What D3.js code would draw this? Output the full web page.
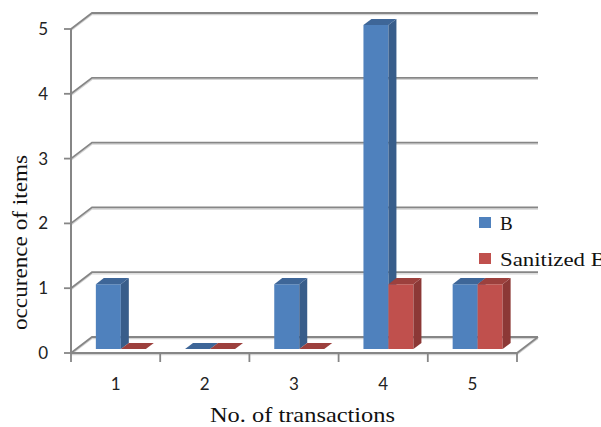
<!DOCTYPE html>
<html><head><meta charset="utf-8">
<script src="https://cdn.jsdelivr.net/npm/d3@7"></script>
<style>body{margin:0;background:#fff;overflow:hidden}svg{display:block}</style>
</head><body>
<script>
const categories = ["1","2","3","4","5"];
const seriesNames = ["B","Sanitized B"];
const valuesB = [1,0,1,5,1];
const valuesSanitized = [0,0,0,1,1];
const yTicks = [0,1,2,3,4,5];
const colors = {
  "B": {front:"#4F81BD", side:"#385D8A", top:"#3E6698"},
  "Sanitized B": {front:"#C0504D", side:"#8C3836", top:"#9C403D"}
};

const W = 601, H = 427;
const svg = d3.select("body").append("svg").attr("width", W).attr("height", H);

const x0 = 71, frontW = 446;
const DX = 21, DY = -16;          // depth offset of the back wall
const yScale = d3.scaleLinear().domain([0,5]).range([353,29]);
const xBand = d3.scaleBand().domain(categories).range([0, frontW]).padding(0);
const xSeries = d3.scaleBand().domain(seriesNames).range([0, xBand.bandwidth()]).paddingInner(0).paddingOuter(0.784);
const d1 = 0.25, d2 = 0.63;        // bar depth range

function P(xp, v, d){ return [x0 + xp + d*DX, yScale(v) + d*DY]; }

const grid = svg.append("g");
function drawLine(pts){
  grid.append("polyline").attr("points", pts.map(p=>[p[0],p[1]+1.6].join(",")).join(" "))
    .attr("fill","none").attr("stroke","#d4d4d4").attr("stroke-width",1.3);
  grid.append("polyline").attr("points", pts.map(p=>p.join(",")).join(" "))
    .attr("fill","none").attr("stroke","#868686").attr("stroke-width",1.8);
}
yTicks.forEach(t => drawLine([[x0, yScale(t)], P(0,t,1), P(frontW,t,1)]));
drawLine([[x0, yScale(0)], [x0+frontW, yScale(0)], P(frontW,0,1)]);
// vertical axis
grid.append("line").attr("x1",x0).attr("x2",x0).attr("y1",yScale(5)).attr("y2",yScale(0)+1)
  .attr("stroke","#868686").attr("stroke-width",2);
yTicks.forEach(t => {
  grid.append("line").attr("x1",x0-7).attr("x2",x0).attr("y1",yScale(t)).attr("y2",yScale(t))
    .attr("stroke","#868686").attr("stroke-width",1.8);
});
// x ticks
d3.range(categories.length+1).forEach(i => {
  const xx = x0 + i*xBand.step();
  grid.append("line").attr("x1",xx).attr("x2",xx).attr("y1",yScale(0)).attr("y2",yScale(0)+9)
    .attr("stroke","#868686").attr("stroke-width",1.8);
});

// bars
const bars = svg.append("g");
const data = [];
categories.forEach((c,i) => {
  data.push({cat:c, s:"B", v:valuesB[i]});
  data.push({cat:c, s:"Sanitized B", v:valuesSanitized[i]});
});
function poly(pts){ return pts.map(p=>p.join(",")).join(" "); }
data.forEach(d => {
  const xl = xBand(d.cat) + xSeries(d.s), xr = xl + xSeries.bandwidth();
  const col = colors[d.s];
  const g = bars.append("g");
  if (d.v > 0) {
    g.append("polygon").attr("points", poly([P(xl,0,d1),P(xr,0,d1),P(xr,d.v,d1),P(xl,d.v,d1)])).attr("fill",col.front);
    g.append("polygon").attr("points", poly([P(xr,0,d1),P(xr,0,d2),P(xr,d.v,d2),P(xr,d.v,d1)])).attr("fill",col.side);
  }
  g.append("polygon").attr("points", poly([P(xl,d.v,d1),P(xr,d.v,d1),P(xr,d.v,d2),P(xl,d.v,d2)])).attr("fill",col.top);
});

// y tick labels
svg.append("g").selectAll("text").data(yTicks).join("text")
  .attr("x", 48).attr("y", d => yScale(d)+6).attr("text-anchor","end")
  .attr("font-family","Lato, 'Liberation Sans', sans-serif").attr("font-size",17).attr("fill","#222")
  .text(d => d);
// x category labels
svg.append("g").selectAll("text").data(categories).join("text")
  .attr("x", d => x0 + xBand(d) + xBand.bandwidth()/2).attr("y", 390).attr("text-anchor","middle")
  .attr("font-family","Lato, 'Liberation Sans', sans-serif").attr("font-size",17).attr("fill","#222")
  .text(d => d);

// axis titles
svg.append("text").attr("x", 210).attr("y", 422)
  .attr("font-family","'Liberation Serif', 'Times New Roman', serif").attr("font-size",22).attr("fill","#111")
  .attr("textLength",185).attr("lengthAdjust","spacingAndGlyphs")
  .text("No. of transactions");
svg.append("text").attr("transform","translate(27,330) rotate(-90)")
  .attr("font-family","'Liberation Serif', 'Times New Roman', serif").attr("font-size",20).attr("fill","#111")
  .attr("textLength",175).attr("lengthAdjust","spacingAndGlyphs")
  .text("occurence of items");

// legend
const leg = svg.append("g");
seriesNames.forEach((s,i) => {
  const y = 217 + i*36;
  leg.append("rect").attr("x",479).attr("y",y).attr("width",12).attr("height",11).attr("fill",colors[s].front);
  const t = leg.append("text").attr("x",500).attr("y",y+13).attr("font-family","'Liberation Serif', 'Times New Roman', serif")
    .attr("font-size",19).attr("fill","#111").text(s);
  if (s.length > 1) t.attr("textLength",106).attr("lengthAdjust","spacingAndGlyphs");
});
</script>
</body></html>
